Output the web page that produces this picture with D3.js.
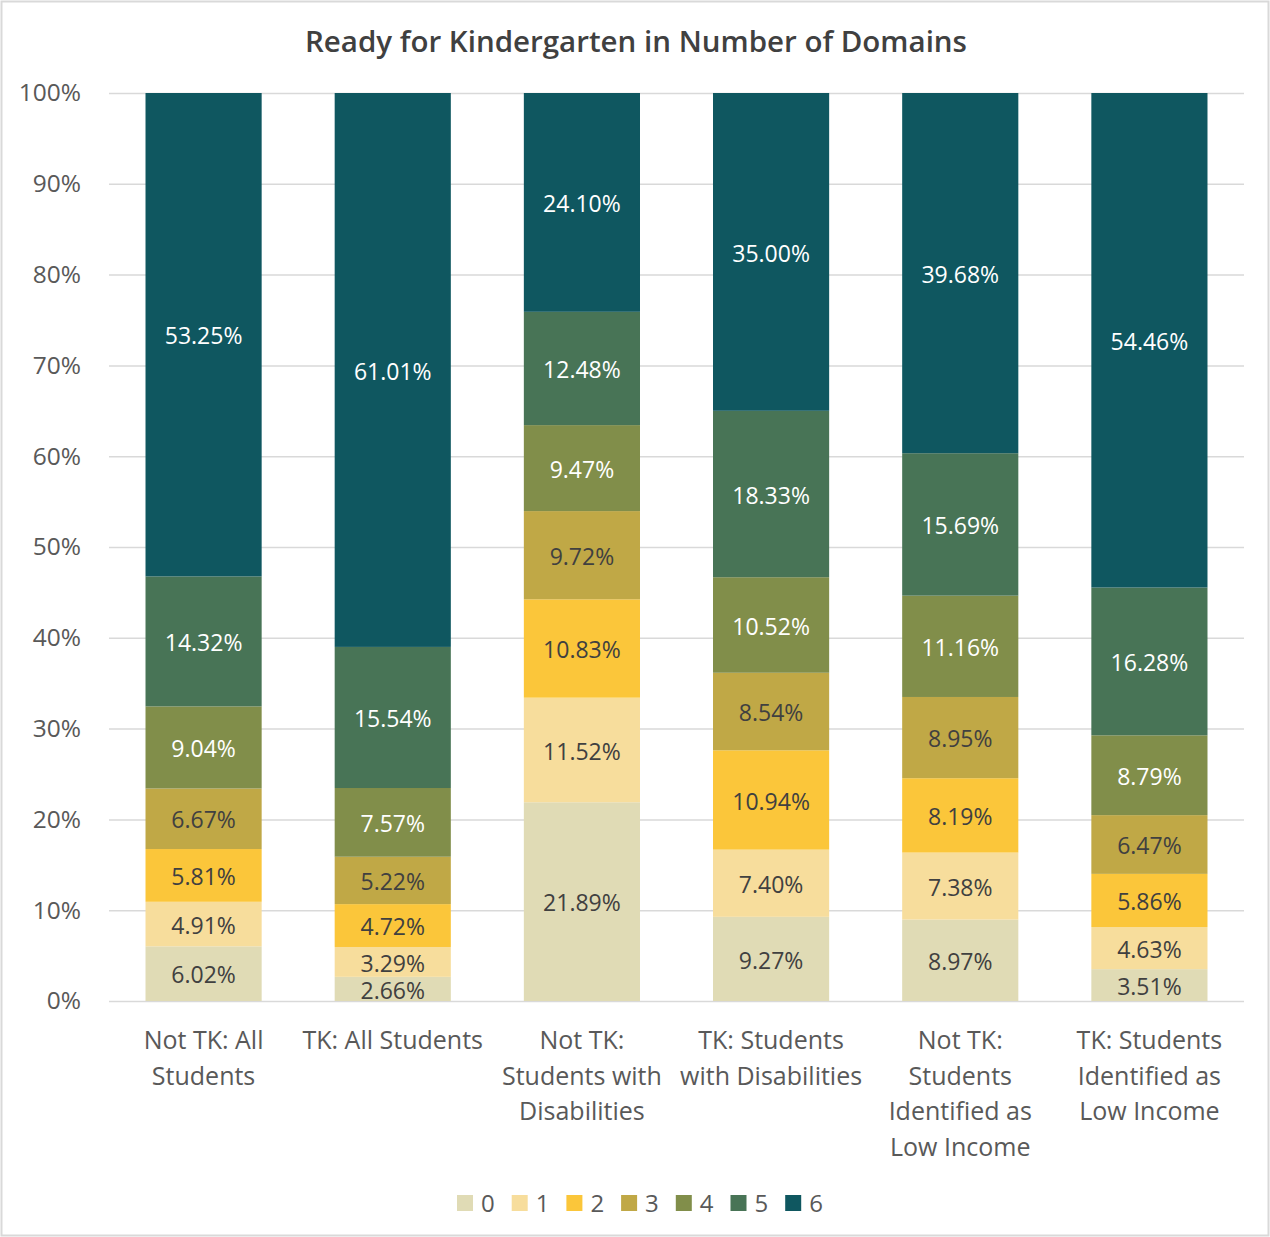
<!DOCTYPE html>
<html>
<head>
<meta charset="utf-8">
<script src="https://cdn.jsdelivr.net/npm/d3@7"></script>
<style>
  body { margin: 0; background: #fff; }
  text { font-family: "Open Sans", "Noto Sans", sans-serif; }
</style>
</head>
<body>
<div id="chart"></div>
<script>
// categories (line breaks as in the original axis)
const categories = [
    "Not TK: All\nStudents",
    "TK: All Students",
    "Not TK:\nStudents with\nDisabilities",
    "TK: Students\nwith Disabilities",
    "Not TK:\nStudents\nIdentified as\nLow Income",
    "TK: Students\nIdentified as\nLow Income"
];
const domains = ["0", "1", "2", "3", "4", "5", "6"];

// percent per domain count, one array per category
const notTkAll = [6.02, 4.91, 5.81, 6.67, 9.04, 14.32, 53.25];
const tkAll = [2.66, 3.29, 4.72, 5.22, 7.57, 15.54, 61.01];
const notTkSwd = [21.89, 11.52, 10.83, 9.72, 9.47, 12.48, 24.10];
const tkSwd = [9.27, 7.40, 10.94, 8.54, 10.52, 18.33, 35.00];
const notTkLi = [8.97, 7.38, 8.19, 8.95, 11.16, 15.69, 39.68];
const tkLi = [3.51, 4.63, 5.86, 6.47, 8.79, 16.28, 54.46];

const yTicks = [0, 10, 20, 30, 40, 50, 60, 70, 80, 90, 100];

const seriesValues = [notTkAll, tkAll, notTkSwd, tkSwd, notTkLi, tkLi];
const colors = ["#e0dbb5", "#f7dd9c", "#fbc63a", "#c0a846", "#818e4a", "#487456", "#0f5760"];
const darkLabel = [true, true, true, true, false, false, false];

const W = 1270, H = 1237;
const margin = {top: 93, right: 26, bottom: 236, left: 109};

const svg = d3.select("#chart").append("svg")
    .attr("width", W)
    .attr("height", H);

// outer border
svg.append("rect")
    .attr("x", 1.5).attr("y", 1.5)
    .attr("width", W - 3).attr("height", H - 3)
    .attr("fill", "#fff")
    .attr("stroke", "#d9d9d9")
    .attr("stroke-width", 2);

// title
svg.append("text")
    .attr("x", 636)
    .attr("y", 52)
    .attr("text-anchor", "middle")
    .attr("font-size", "29.5px")
    .attr("font-weight", 600)
    .attr("fill", "#404040")
    .text("Ready for Kindergarten in Number of Domains");

const g = svg.append("g")
    .attr("transform", "translate(" + margin.left + "," + margin.top + ")");

const width = W - margin.left - margin.right;
const height = H - margin.top - margin.bottom;

// build rows for the stack (100% stacked)
const rows = categories.map(function(c, i) {
    let row = {cat: c};
    let total = d3.sum(seriesValues[i]);
    domains.forEach(function(d, j) {
        row[d] = seriesValues[i][j] / total * 100;
        row["lbl" + d] = seriesValues[i][j];
    });
    return row;
});

const stack = d3.stack().keys(domains);
const stacked = stack(rows);

const x = d3.scaleBand()
    .domain(categories)
    .range([0, width])
    .paddingInner(0.386)
    .paddingOuter(0.193);

const y = d3.scaleLinear()
    .domain([0, 100])
    .range([height, 0]);

// gridlines + y axis
const yAxis = g.append("g")
    .call(d3.axisLeft(y).tickValues(yTicks).tickSize(-width).tickFormat(function(d) { return d + "%"; }));
yAxis.select(".domain").remove();
yAxis.selectAll(".tick line").attr("stroke", "#d9d9d9").attr("stroke-width", 1.5);
yAxis.selectAll(".tick text")
    .attr("x", -28)
    .attr("font-size", "24.5px")
    .attr("fill", "#595959");

// bars
const layers = g.selectAll(".layer")
    .data(stacked)
    .enter().append("g")
    .attr("class", "layer")
    .attr("fill", function(d, i) { return colors[i]; });

layers.selectAll("rect")
    .data(function(d) { return d; })
    .enter().append("rect")
    .attr("x", function(d) { return x(d.data.cat); })
    .attr("y", function(d) { return y(d[1]); })
    .attr("height", function(d) { return y(d[0]) - y(d[1]); })
    .attr("width", x.bandwidth());

// data labels
layers.each(function(layer, i) {
    d3.select(this).selectAll("text")
        .data(layer)
        .enter().append("text")
        .attr("x", function(d) { return x(d.data.cat) + x.bandwidth() / 2; })
        .attr("y", function(d) { return (y(d[0]) + y(d[1])) / 2; })
        .attr("dy", "0.42em")
        .attr("text-anchor", "middle")
        .attr("font-size", "23px")
        .attr("fill", darkLabel[i] ? "#404040" : "#ffffff")
        .text(function(d) { return d.data["lbl" + layer.key].toFixed(2) + "%"; });
});

// category labels
const catG = g.append("g")
    .attr("transform", "translate(0," + height + ")");
categories.forEach(function(c) {
    let t = catG.append("text")
        .attr("x", x(c) + x.bandwidth() / 2)
        .attr("y", 48)
        .attr("text-anchor", "middle")
        .attr("font-size", "25px")
        .attr("fill", "#595959");
    c.split("\n").forEach(function(line, k) {
        t.append("tspan")
            .attr("x", x(c) + x.bandwidth() / 2)
            .attr("dy", k === 0 ? 0 : 35.7)
            .text(line);
    });
});

// legend
const legend = svg.append("g")
    .attr("transform", "translate(457,1203)");
domains.forEach(function(d, i) {
    let item = legend.append("g")
        .attr("transform", "translate(" + (i * 54.7) + ",0)");
    item.append("rect")
        .attr("x", 0).attr("y", -8)
        .attr("width", 16).attr("height", 16)
        .attr("fill", colors[i]);
    item.append("text")
        .attr("x", 24)
        .attr("y", 0)
        .attr("dy", "0.36em")
        .attr("font-size", "24px")
        .attr("fill", "#595959")
        .text(d);
});
</script>
</body>
</html>
